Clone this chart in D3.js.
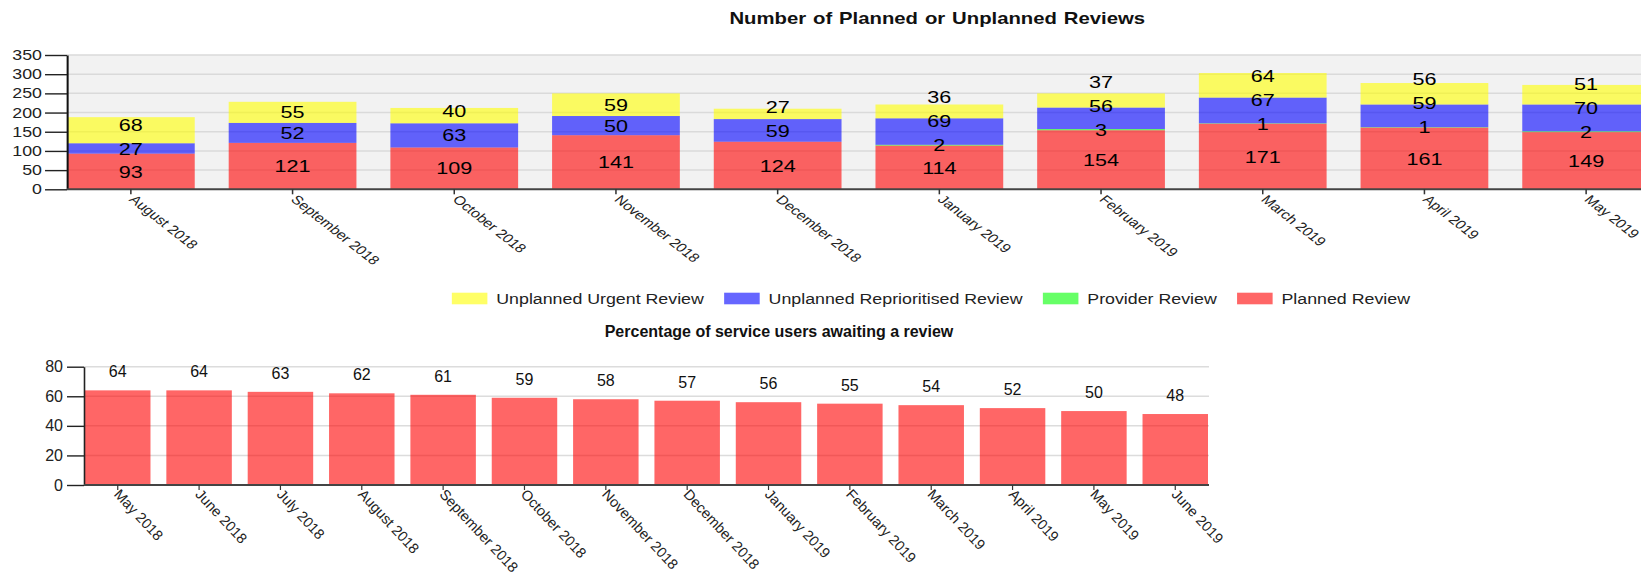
<!DOCTYPE html>
<html>
<head>
<meta charset="utf-8">
<script src="https://cdn.jsdelivr.net/npm/d3@7"></script>
<style>
    body { margin: 0; overflow: hidden; background: #fff; }
    text { font-family: "Liberation Sans", Arial, sans-serif; }
</style>
</head>
<body>
<div id="chart"></div>
<script>
// Top chart data
const topMonths = ["August 2018", "September 2018", "October 2018", "November 2018", "December 2018",
    "January 2019", "February 2019", "March 2019", "April 2019", "May 2019"];
const planned = [93, 121, 109, 141, 124, 114, 154, 171, 161, 149];
const provider = [0, 0, 0, 0, 0, 2, 3, 1, 1, 2];
const reprioritised = [27, 52, 63, 50, 59, 69, 56, 67, 59, 70];
const urgent = [68, 55, 40, 59, 27, 36, 37, 64, 56, 51];
const topTicks = [0, 50, 100, 150, 200, 250, 300, 350];

// Bottom chart data
const pctMonths = ["May 2018", "June 2018", "July 2018", "August 2018", "September 2018", "October 2018",
    "November 2018", "December 2018", "January 2019", "February 2019", "March 2019", "April 2019",
    "May 2019", "June 2019"];
const pctValues = [64, 64, 63, 62, 61, 59, 58, 57, 56, 55, 54, 52, 50, 48];
const pctTicks = [0, 20, 40, 60, 80];

// series, bottom to top of the stack
const seriesKeys = ["planned", "provider", "reprioritised", "urgent"];
const seriesNames = {
    urgent: "Unplanned Urgent Review",
    reprioritised: "Unplanned Reprioritised Review",
    provider: "Provider Review",
    planned: "Planned Review"
};
const legendOrder = ["urgent", "reprioritised", "provider", "planned"];
const colour = d3.scaleOrdinal().domain(seriesKeys).range(["#ff0000", "#00ff00", "#0000ff", "#ffff00"]);
const barOpacity = 0.6;

const width = 1641, height = 573;
const sx = 1.27; // the top chart is drawn stretched sideways

const svg = d3.select("#chart").append("svg")
    .attr("width", width)
    .attr("height", height);

// ---------- top chart ----------
const topChart = svg.append("g").attr("transform", `scale(${sx},1)`);

const xTop = d3.scaleBand()
    .domain(topMonths)
    .range([67 / sx, 1650 / sx])
    .paddingInner(0.21)
    .paddingOuter(0);
const yTop = d3.scaleLinear().domain([0, 350]).range([189.3, 55]);
const topRight = width / sx + 10;

topChart.append("rect")
    .attr("x", xTop.range()[0])
    .attr("y", yTop(350))
    .attr("width", topRight - xTop.range()[0])
    .attr("height", yTop(0) - yTop(350))
    .attr("fill", "#f2f2f2");

topChart.append("g").selectAll("line")
    .data(topTicks.filter(d => d > 0))
    .join("line")
    .attr("x1", xTop.range()[0]).attr("x2", topRight)
    .attr("y1", d => yTop(d)).attr("y2", d => yTop(d))
    .attr("stroke", "#dadada").attr("stroke-width", 1.5);

const rows = topMonths.map((m, i) => ({
    month: m,
    planned: planned[i],
    provider: provider[i],
    reprioritised: reprioritised[i],
    urgent: urgent[i]
}));
const stacked = d3.stack().keys(seriesKeys)(rows);

const layers = topChart.append("g").selectAll("g")
    .data(stacked)
    .join("g")
    .attr("fill", d => colour(d.key))
    .attr("fill-opacity", barOpacity);

layers.selectAll("rect")
    .data(d => d)
    .join("rect")
    .attr("x", d => xTop(d.data.month))
    .attr("width", xTop.bandwidth())
    .attr("y", d => yTop(d[1]))
    .attr("height", d => yTop(d[0]) - yTop(d[1]));

// values inside the segments; a label that would touch the one below is pushed up
const minGap = 20, pushGap = 24;
const segLabels = [];
topMonths.forEach((m, i) => {
    let prevY = null;
    stacked.forEach(layer => {
        const s = layer[i];
        const v = s[1] - s[0];
        if (v <= 0) return;
        let y = yTop((s[0] + s[1]) / 2);
        if (prevY !== null && prevY - y < minGap) y = prevY - pushGap;
        prevY = y;
        segLabels.push({ month: m, y, value: v });
    });
});

topChart.append("g").selectAll("text")
    .data(segLabels)
    .join("text")
    .attr("x", d => xTop(d.month) + xTop.bandwidth() / 2)
    .attr("y", d => d.y)
    .attr("dy", "0.36em")
    .attr("text-anchor", "middle")
    .attr("font-size", "17px")
    .attr("fill", "#000")
    .text(d => d.value);

// axes
const yAxisTop = topChart.append("g")
    .attr("transform", `translate(${xTop.range()[0]},0)`)
    .call(d3.axisLeft(yTop).tickValues(topTicks).tickSize(17.3).tickSizeOuter(0).tickPadding(2.4));
yAxisTop.select(".domain").attr("stroke", "#111").attr("stroke-width", 1.6);
yAxisTop.selectAll(".tick line").attr("stroke", "#222").attr("stroke-width", 1.4);
yAxisTop.selectAll(".tick text")
    .attr("font-size", "14px")
    .attr("font-family", "Liberation Sans, Arial, sans-serif")
    .attr("fill", "#222");

topChart.append("line")
    .attr("x1", xTop.range()[0]).attr("x2", topRight)
    .attr("y1", yTop(0)).attr("y2", yTop(0))
    .attr("stroke", "#444").attr("stroke-width", 2);

const xTicksTop = topChart.append("g").selectAll("g")
    .data(topMonths)
    .join("g");
xTicksTop.append("line")
    .attr("x1", d => xTop(d) + xTop.bandwidth() / 2)
    .attr("x2", d => xTop(d) + xTop.bandwidth() / 2)
    .attr("y1", yTop(0)).attr("y2", yTop(0) + 5)
    .attr("stroke", "#333").attr("stroke-width", 1.2);
xTicksTop.append("text")
    .attr("transform", d => `translate(${xTop(d) + xTop.bandwidth() / 2 - 2},${yTop(0) + 11}) rotate(45)`)
    .attr("font-size", "12.5px")
    .attr("fill", "#222")
    .text(d => d);

// title
topChart.append("text")
    .attr("x", 738)
    .attr("y", 24)
    .attr("text-anchor", "middle")
    .attr("font-size", "16px")
    .attr("font-weight", "bold")
    .attr("word-spacing", "1px")
    .attr("fill", "#111")
    .text("Number of Planned or Unplanned Reviews");

// legend, laid out left to right and centred
const legend = topChart.append("g");
const items = legend.selectAll("g")
    .data(legendOrder)
    .join("g");
items.append("rect")
    .attr("width", 28)
    .attr("height", 11.6)
    .attr("y", 292.7)
    .attr("fill", d => colour(d))
    .attr("fill-opacity", barOpacity);
items.append("text")
    .attr("x", 35)
    .attr("y", 304.3)
    .attr("font-size", "14px")
    .attr("fill", "#222")
    .text(d => seriesNames[d]);
let pos = 0;
items.each(function () {
    const w = 35 + d3.select(this).select("text").node().getComputedTextLength();
    d3.select(this).attr("transform", `translate(${pos},0)`);
    pos += w + 16;
});
legend.attr("transform", `translate(${733 - (pos - 16) / 2},0)`);

// ---------- bottom chart ----------
const bottomChart = svg.append("g");

const xBot = d3.scaleBand()
    .domain(pctMonths)
    .range([85, 1208])
    .paddingInner(0.195)
    .paddingOuter(0);
const yBot = d3.scaleLinear().domain([0, 80]).range([485, 366.7]);

bottomChart.append("text")
    .attr("x", 779)
    .attr("y", 336.7)
    .attr("text-anchor", "middle")
    .attr("font-size", "16px")
    .attr("font-weight", "bold")
    .attr("fill", "#111")
    .text("Percentage of service users awaiting a review");

bottomChart.append("g").selectAll("line")
    .data(pctTicks.filter(d => d > 0))
    .join("line")
    .attr("x1", 84).attr("x2", 1209)
    .attr("y1", d => yBot(d)).attr("y2", d => yBot(d))
    .attr("stroke", "#dcdcdc").attr("stroke-width", 1.5);

bottomChart.append("g").selectAll("rect")
    .data(pctValues)
    .join("rect")
    .attr("x", (d, i) => xBot(pctMonths[i]))
    .attr("width", xBot.bandwidth())
    .attr("y", d => yBot(d))
    .attr("height", d => yBot(0) - yBot(d))
    .attr("fill", colour("planned"))
    .attr("fill-opacity", barOpacity);

bottomChart.append("g").selectAll("text")
    .data(pctValues)
    .join("text")
    .attr("x", (d, i) => xBot(pctMonths[i]) + xBot.bandwidth() / 2)
    .attr("y", d => yBot(d) - 13)
    .attr("text-anchor", "middle")
    .attr("font-size", "16px")
    .attr("fill", "#111")
    .text(d => d);

const yAxisBot = bottomChart.append("g")
    .attr("transform", "translate(84,0)")
    .call(d3.axisLeft(yBot).tickValues(pctTicks).tickSize(17).tickSizeOuter(0).tickPadding(4));
yAxisBot.select(".domain").attr("stroke", "#222").attr("stroke-width", 1.6);
yAxisBot.selectAll(".tick line").attr("stroke", "#222").attr("stroke-width", 1.4);
yAxisBot.selectAll(".tick text")
    .attr("font-size", "16px")
    .attr("font-family", "Liberation Sans, Arial, sans-serif")
    .attr("fill", "#222");

bottomChart.append("line")
    .attr("x1", 84).attr("x2", 1209)
    .attr("y1", yBot(0)).attr("y2", yBot(0))
    .attr("stroke", "#444").attr("stroke-width", 2);

const xTicksBot = bottomChart.append("g").selectAll("g")
    .data(pctMonths)
    .join("g");
xTicksBot.append("line")
    .attr("x1", d => xBot(d) + xBot.bandwidth() / 2)
    .attr("x2", d => xBot(d) + xBot.bandwidth() / 2)
    .attr("y1", yBot(0)).attr("y2", yBot(0) + 5)
    .attr("stroke", "#333").attr("stroke-width", 1.2);
xTicksBot.append("text")
    .attr("transform", d => `translate(${xBot(d) + xBot.bandwidth() / 2 - 4.5},${yBot(0) + 10}) rotate(47)`)
    .attr("font-size", "14.5px")
    .attr("fill", "#222")
    .text(d => d);
</script>
</body>
</html>
